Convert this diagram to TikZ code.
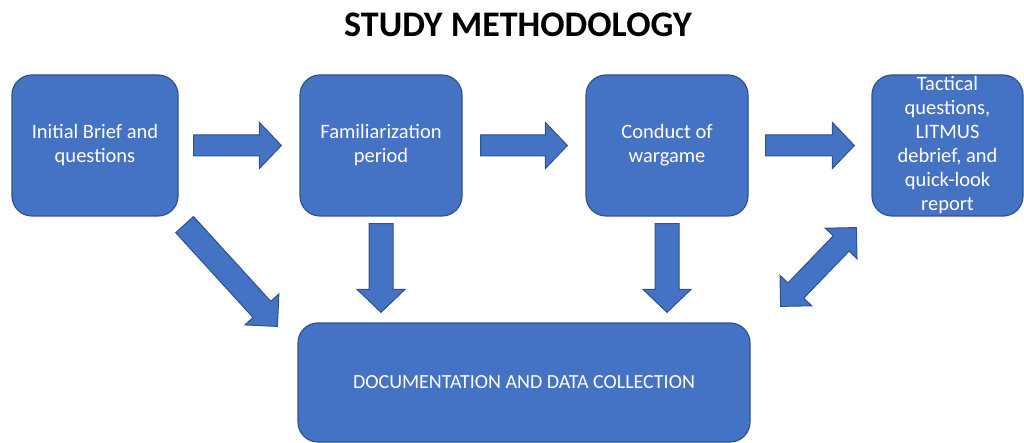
\documentclass[tikz,border=0pt]{standalone}
\usepackage{fontspec}
\setmainfont{Carlito}
\usetikzlibrary{calc}
\definecolor{boxblue}{HTML}{4472C4}
\definecolor{edgeblue}{HTML}{2F528F}

% single block arrow: from, to, shaft half-width, head half-width, head length
\newcommand\blockarrow[5]{%
  \coordinate (hb) at ($(#2)!#5!(#1)$);
  \draw[barrow] ($(#1)!#3!90:(#2)$) -- ($(hb)!#3!90:(#2)$) -- ($(hb)!#4!90:(#2)$)
    -- (#2) -- ($(hb)!#4!-90:(#2)$) -- ($(hb)!#3!-90:(#2)$) -- ($(#1)!#3!-90:(#2)$) -- cycle;}
% double-headed block arrow
\newcommand\dblarrow[5]{%
  \coordinate (ha) at ($(#1)!#5!(#2)$);
  \coordinate (hb) at ($(#2)!#5!(#1)$);
  \draw[barrow] (#1) -- ($(ha)!#4!90:(#2)$) -- ($(ha)!#3!90:(#2)$) -- ($(hb)!#3!90:(#2)$)
    -- ($(hb)!#4!90:(#2)$) -- (#2) -- ($(hb)!#4!-90:(#2)$) -- ($(hb)!#3!-90:(#2)$)
    -- ($(ha)!#3!-90:(#2)$) -- ($(ha)!#4!-90:(#2)$) -- cycle;}

\begin{document}
\begin{tikzpicture}[x=1pt,y=-1pt,
  stage/.style={draw=edgeblue, line width=1.2pt, fill=boxblue, rounded corners=20pt,
    text=white, align=center, font=\fontsize{20.5}{24}\selectfont,
    minimum height=141pt, inner sep=0pt},
  barrow/.style={draw=edgeblue, line width=1pt, fill=boxblue, line join=miter}]
\useasboundingbox (0,0) rectangle (1024,443);

\node (title) at (518,25) {\fontsize{36}{40}\selectfont\bfseries STUDY METHODOLOGY};

\node[stage, minimum width=166pt] (n1) at (95,145.5) {Initial Brief and\\questions};
\node[stage, minimum width=162pt] (n2) at (381,145.5) {Familiarization\\period};
\node[stage, minimum width=162pt] (n3) at (667,145.5) {Conduct of\\wargame};
\node[stage, minimum width=151pt] (n4) at (947.5,145.5) {Tactical\\questions,\\LITMUS\\debrief, and\\quick-look\\report};
\node[stage, minimum width=452pt, minimum height=119pt, font=\fontsize{20}{24}\selectfont] (n5) at (524,382.5) {DOCUMENTATION AND DATA COLLECTION};

% horizontal flow
\coordinate (h1s) at ($(n1.east)+(15,0)$);  \coordinate (h1e) at ($(n2.west)+(-18,0)$);
\coordinate (h2s) at ($(n2.east)+(18,0)$);  \coordinate (h2e) at ($(n3.west)+(-18,0)$);
\coordinate (h3s) at ($(n3.east)+(17,0)$);  \coordinate (h3e) at ($(n4.west)+(-17,0)$);
\blockarrow{h1s}{h1e}{10.5pt}{23pt}{22pt}
\blockarrow{h2s}{h2e}{10.5pt}{23pt}{22pt}
\blockarrow{h3s}{h3e}{10.5pt}{23pt}{22pt}

% down into documentation
\coordinate (v1s) at ($(n2.south)+(0,7)$);  \coordinate (v1e) at ($(n2.south |- n5.north)+(0,-10)$);
\coordinate (v2s) at ($(n3.south)+(0,7)$);  \coordinate (v2e) at ($(n3.south |- n5.north)+(0,-10)$);
\blockarrow{v1s}{v1e}{12pt}{24pt}{23pt}
\blockarrow{v2s}{v2e}{12pt}{24pt}{23pt}

% diagonal from the initial brief
\coordinate (d1s) at ($(n1.south east)+(6,8)$);
\coordinate (d1e) at ($(n5.north west)+(-20,4)$);
\blockarrow{d1s}{d1e}{12pt}{23pt}{23pt}

% two-way link with the debrief
\coordinate (d2a) at ($(n5.north east)+(30,-16)$);
\coordinate (d2b) at ($(n4.south west)+(-15,11)$);
\dblarrow{d2a}{d2b}{11pt}{22pt}{22pt}
\end{tikzpicture}
\end{document}
